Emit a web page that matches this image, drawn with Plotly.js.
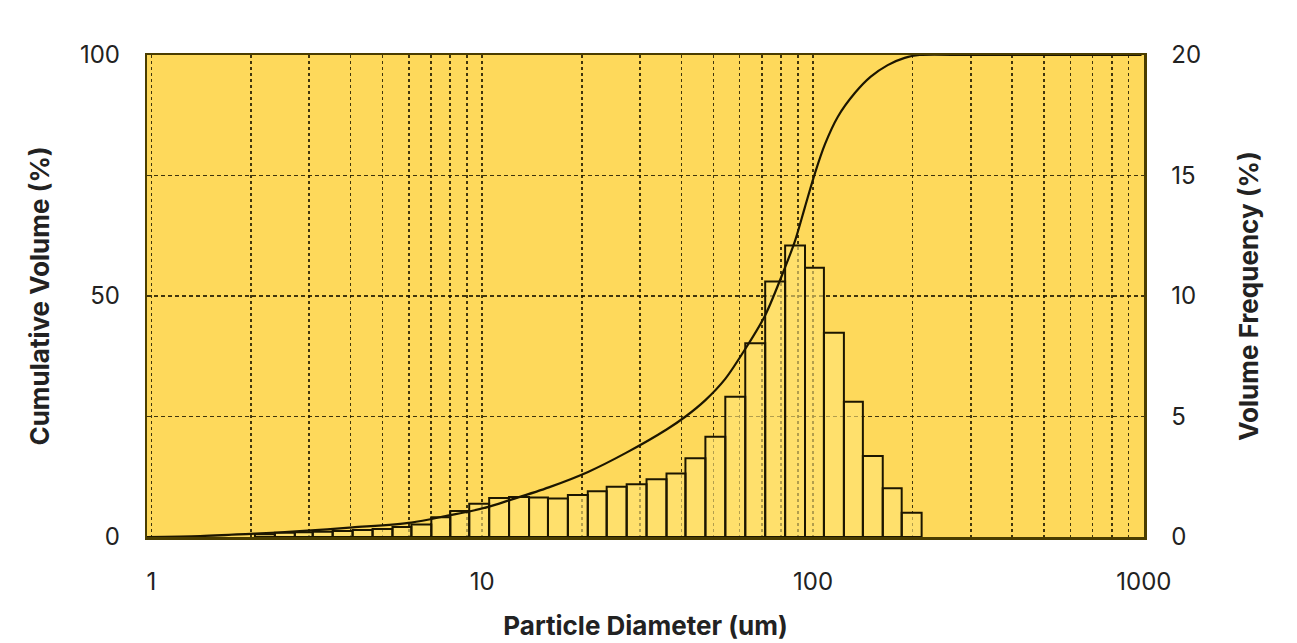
<!DOCTYPE html>
<html>
<head>
<meta charset="utf-8">
<script src="https://cdn.plot.ly/plotly-3.0.1.min.js"></script>
<style>html,body{margin:0;padding:0;background:#fff;}#chart{width:1297px;height:643px;}</style>
</head>
<body>
<div id="chart"></div>
<script>
// Size-class bin edges (um)
const binEdges = [2.057, 2.363, 2.715, 3.075, 3.533, 4.059, 4.664, 5.357, 6.111, 7.021, 8.011, 9.139, 10.50, 12.06, 13.86, 15.81, 18.16, 20.86, 23.79, 27.34, 31.40, 36.08, 41.16, 47.29, 54.32, 62.41, 71.70, 82.37, 94.6, 107.9, 124.0, 141.5, 162.5, 185.4, 213.0];
// Volume frequency (%) per bin
const volumeFreq = [0.11, 0.18, 0.20, 0.22, 0.25, 0.29, 0.33, 0.42, 0.52, 0.82, 1.08, 1.38, 1.62, 1.66, 1.64, 1.60, 1.74, 1.90, 2.08, 2.19, 2.40, 2.64, 3.27, 4.16, 5.82, 8.04, 10.6, 12.1, 11.17, 8.48, 5.61, 3.36, 2.02, 1.01];
// Cumulative volume curve
const cumDiameter = [0.97, 1.405, 2.06, 2.81, 4.06, 6.11, 7.95, 9.14, 10.5, 12.06, 15.9, 20.9, 27.3, 36.1, 41.2, 47.3, 54.3, 62.4, 71.7, 82.4, 88.3, 94.6, 101.4, 108.7, 118.9, 133.8, 149.5, 168.2, 189.3, 210.0, 300, 984];
const cumVolume   = [0.0, 0.2, 0.7, 1.2, 2.0, 3.0, 4.5, 5.3, 6.3, 7.6, 10.3, 13.5, 17.5, 22.3, 25.0, 28.4, 32.8, 39.0, 46.0, 56.0, 61.5, 68.5, 75.5, 81.5, 87.2, 92.1, 95.5, 97.9, 99.4, 100, 100, 100];
// Axis ticks
const xGridVals = [1,2,3,4,5,6,7,8,9,10,20,30,40,50,60,70,80,90,100,200,300,400,500,600,700,800,900,1000];
const xTickLabels = {1:'1', 10:'10', 100:'100', 1000:'1000'};
const leftTicks = [0, 50, 100];
const rightTicks = [0, 5, 10, 15, 20];

const barX = [], barY = [];
for (let i = 0; i < volumeFreq.length; i++) {
  const e0 = binEdges[i], e1 = binEdges[i + 1], h = volumeFreq[i];
  barX.push(e0, e0, e1, e1, e0, null);
  barY.push(0, h, h, 0, 0, null);
}

const ink = '#1c1600';
const font = 'Inter, "Noto Sans", sans-serif';

const traces = [
  {
    type: 'scatter', mode: 'lines', x: barX, y: barY,
    xaxis: 'x', yaxis: 'y',
    fill: 'toself', fillcolor: 'rgba(255,229,120,0.6)',
    line: {color: ink, width: 2}, hoverinfo: 'skip', showlegend: false
  },
  {
    type: 'scatter', mode: 'lines', x: cumDiameter, y: cumVolume,
    xaxis: 'x', yaxis: 'y2',
    line: {color: ink, width: 2.2, shape: 'spline', smoothing: 0.8},
    showlegend: false
  }
];

const layout = {
  width: 1297, height: 643,
  margin: {l: 147, r: 153, t: 55, b: 106},
  paper_bgcolor: '#ffffff',
  plot_bgcolor: '#fed95b',
  font: {family: font, color: '#222222', size: 24},
  showlegend: false,
  xaxis: {
    type: 'log', range: [-0.013, 3.0005],
    tickmode: 'array', tickvals: xGridVals,
    ticktext: xGridVals.map(v => xTickLabels[v] || ''),
    ticks: '', ticklabelstandoff: 22,
    tickfont: {family: font, size: 24, color: '#222'},
    showgrid: true, gridcolor: 'rgba(30,24,0,0.85)', gridwidth: 1.6, griddash: 'dot',
    showline: true, mirror: true, linecolor: '#4a3d00', linewidth: 2.5,
    zeroline: false,
    title: {text: 'Particle Diameter (um)', standoff: 22,
            font: {family: font, size: 26, color: '#222', weight: 'bold'}}
  },
  yaxis: {
    side: 'right', range: [0, 20],
    tickmode: 'array', tickvals: rightTicks,
    ticks: '', ticklabelstandoff: 20,
    tickfont: {family: font, size: 24, color: '#222'},
    showgrid: true, gridcolor: 'rgba(30,24,0,0.85)', gridwidth: 1.6, griddash: '4px,3px',
    showline: true, mirror: true, linecolor: '#4a3d00', linewidth: 2.5,
    zeroline: false,
    title: {text: 'Volume Frequency (%)', standoff: 40,
            font: {family: font, size: 26, color: '#222', weight: 'bold'}}
  },
  yaxis2: {
    overlaying: 'y', side: 'left', range: [0, 100],
    tickmode: 'array', tickvals: leftTicks,
    ticks: '', ticklabelstandoff: 26,
    tickfont: {family: font, size: 24, color: '#222'},
    showgrid: false, zeroline: false, showline: false,
    title: {text: 'Cumulative Volume (%)', standoff: 22,
            font: {family: font, size: 26, color: '#222', weight: 'bold'}}
  }
};

Plotly.newPlot('chart', traces, layout, {displayModeBar: false, staticPlot: true});
</script>
</body>
</html>
